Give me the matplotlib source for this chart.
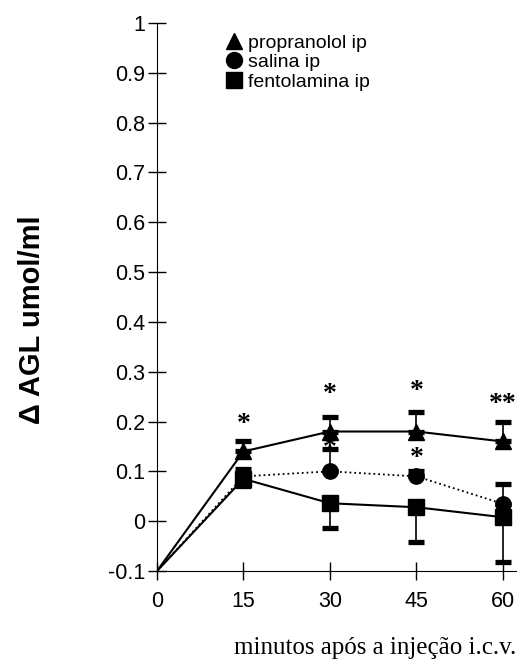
import matplotlib
matplotlib.use("Agg")
import matplotlib.pyplot as plt
from matplotlib.lines import Line2D

minutes = [0, 15, 30, 45, 60]
propranolol = [-0.1, 0.14, 0.18, 0.18, 0.16]
propranolol_err = [0, 0.02, 0.03, 0.04, 0.04]
salina = [-0.1, 0.09, 0.10, 0.09, 0.035]
salina_err = [0, 0.015, 0.045, 0.01, 0.04]
fentolamina = [-0.1, 0.085, 0.036, 0.028, 0.008]
fentolamina_err = [0, 0.015, 0.05, 0.07, 0.09]

stars_x = [15, 30, 45, 60, 30, 45]
stars_y = [0.195, 0.255, 0.26, 0.235, 0.145, 0.125]
stars_txt = ["*", "*", "*", "**", "*", "*"]

yticks = [-0.1, 0, 0.1, 0.2, 0.3, 0.4, 0.5, 0.6, 0.7, 0.8, 0.9, 1]
ytick_labels = ["-0.1", "0", "0.1", "0.2", "0.3", "0.4", "0.5", "0.6", "0.7", "0.8", "0.9", "1"]
xticks = [0, 15, 30, 45, 60]

fig = plt.figure(figsize=(5.21, 6.65), dpi=100)
ax = fig.add_axes([157/521, 1-571/665, (516-157)/521, (571-23)/665])

sans = "Liberation Sans"
serif = "Liberation Serif"

cap = dict(capsize=5.5, capthick=3.8, elinewidth=1.2, ecolor="black")
ms = 11

# propranolol: upper error bars
ax.errorbar(minutes[1:], propranolol[1:], yerr=[[0]*4, propranolol_err[1:]], fmt="none", **cap)
ax.plot(minutes, propranolol, "-", color="black", lw=1.5, marker="^", markersize=ms, markevery=[1,2,3,4])
# salina: upper error bars, dotted line
ax.errorbar(minutes[1:], salina[1:], yerr=[[0]*4, salina_err[1:]], fmt="none", **cap)
ax.plot(minutes, salina, ":", color="black", lw=1.3, marker="o", markersize=ms, markevery=[1,2,3,4])
# fentolamina: lower error bars
ax.errorbar(minutes[1:], fentolamina[1:], yerr=[fentolamina_err[1:], [0]*4], fmt="none", **cap)
ax.plot(minutes, fentolamina, "-", color="black", lw=1.5, marker="s", markersize=ms, markevery=[1,2,3,4])

for x, y, t in zip(stars_x, stars_y, stars_txt):
    ax.text(x, y, t, ha="center", va="center", fontsize=20, family=serif, fontweight="bold")

ax.set_xlim(0, 62.3)
ax.set_ylim(-0.1, 1.0)
ax.set_yticks(yticks)
ax.set_yticklabels(ytick_labels, family=sans, fontsize=15.5)
ax.set_xticks(xticks)
ax.set_xticklabels([str(v) for v in xticks], family=sans, fontsize=15.5)
ax.tick_params(direction="inout", length=13, width=1, pad=2)
ax.tick_params(axis="x", pad=8)
ax.spines["top"].set_visible(False)
ax.spines["right"].set_visible(False)

ax.set_ylabel("Δ AGL umol/ml", family=sans, fontsize=21, fontweight="bold")
ax.yaxis.set_label_coords(-0.31, 0.458)
fig.text(516/521, 1-648/665, "minutos após a injeção i.c.v.", ha="right", va="center",
         family=serif, fontsize=18)

lms = 11.5
handles = [Line2D([], [], color="black", marker="^", ls="none", markersize=lms),
           Line2D([], [], color="black", marker="o", ls="none", markersize=lms),
           Line2D([], [], color="black", marker="s", ls="none", markersize=lms)]
fig.legend(handles, ["propranolol ip", "salina ip", "fentolamina ip"], loc="upper left",
           bbox_to_anchor=(224/521, 1-34/665), frameon=False, handletextpad=0.25,
           labelspacing=0.1, handlelength=1.0, borderpad=0, borderaxespad=0,
           prop={"family": sans, "size": 14})

fig.savefig("out.png", dpi=100)
